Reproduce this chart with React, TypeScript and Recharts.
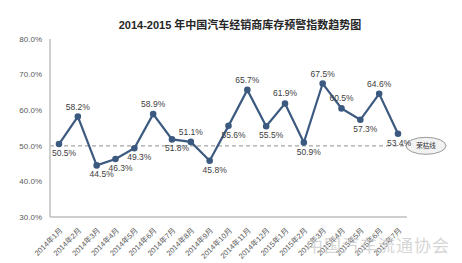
import { LineChart, Line, XAxis, YAxis, ReferenceLine, LabelList } from "recharts";

const MONTHS = [
  "2014年1月", "2014年2月", "2014年3月", "2014年4月", "2014年5月", "2014年6月",
  "2014年7月", "2014年8月", "2014年9月", "2014年10月", "2014年11月", "2014年12月",
  "2015年1月", "2015年2月", "2015年3月", "2015年4月", "2015年5月", "2015年6月", "2015年7月",
];
const INDEX = [
  50.5, 58.2, 44.5, 46.3, 49.3, 58.9, 51.8, 51.1, 45.8, 55.6,
  65.7, 55.5, 61.9, 50.9, 67.5, 60.5, 57.3, 64.6, 53.4,
];
const Y_TICKS = [30, 40, 50, 60, 70, 80];
const THRESHOLD = 50;

const data = MONTHS.map((m, i) => ({ month: m, value: INDEX[i] }));

const FONT = "'Liberation Sans', 'Noto Sans CJK SC', sans-serif";

const MonthTick = (props: any) => {
  const { x, y, payload } = props;
  return (
    <text
      x={x + 4}
      y={y + 6}
      transform={`rotate(-45, ${x + 4}, ${y + 6})`}
      textAnchor="end"
      fontSize={7.5}
      fill="#595959"
      fontFamily={FONT}
    >
      {payload.value}
    </text>
  );
};

const PointLabel = (props: any) => {
  const { x, y, index, value } = props;
  const next = INDEX[index + 1];
  const last = next === undefined;
  const above = !last && value > next && index !== 6;
  return (
    <text
      x={x + (above ? 0 : last ? 1 : 5)}
      y={above ? y - 7 : y + 12}
      textAnchor="middle"
      fontSize={8.5}
      fill="#404040"
      fontFamily={FONT}
    >
      {`${value.toFixed(1)}%`}
    </text>
  );
};

const ThresholdBadge = (props: any) => {
  const { viewBox } = props;
  const cx = viewBox.x + viewBox.width + 19;
  const cy = viewBox.y;
  return (
    <g>
      <ellipse cx={cx} cy={cy} rx={20} ry={8.5} fill="#f2f2f2" stroke="#9a9a9a" strokeWidth={1} />
      <text x={cx} y={cy + 2.5} textAnchor="middle" fontSize={6.5} fill="#333" fontFamily={FONT}>
        荣枯线
      </text>
    </g>
  );
};

export default function App() {
  return (
    <div style={{ position: "absolute", left: 0, top: 0, width: 462, height: 263, background: "#fff", overflow: "hidden" }}>
      <div
        style={{
          position: "absolute",
          left: 0,
          top: 16,
          width: 480,
          textAlign: "center",
          fontFamily: FONT,
          fontWeight: "bold",
          fontSize: 11,
          color: "#262626",
        }}
      >
        2014-2015 年中国汽车经销商库存预警指数趋势图
      </div>
      <LineChart width={462} height={263} data={data} margin={{ top: 39, right: 55, bottom: 0, left: 0 }}>
        <XAxis
          dataKey="month"
          interval={0}
          height={46}
          padding={{ left: 9, right: 9 }}
          tickLine={false}
          axisLine={{ stroke: "#bfbfbf", strokeWidth: 1.5 }}
          tick={<MonthTick />}
        />
        <YAxis
          width={50}
          domain={[30, 80]}
          ticks={Y_TICKS}
          tickLine={false}
          axisLine={{ stroke: "#bfbfbf", strokeWidth: 1.5 }}
          tickFormatter={(v: number) => `${v.toFixed(1)}%`}
          tick={{ fontSize: 8, fill: "#595959", fontFamily: FONT }}
        />
        <ReferenceLine
          y={THRESHOLD}
          stroke="#a6a6a6"
          strokeDasharray="4 3"
          strokeWidth={1.2}
          label={<ThresholdBadge />}
        />
        <Line
          type="linear"
          dataKey="value"
          stroke="#3c5a80"
          strokeWidth={2.2}
          dot={{ r: 2.2, fill: "#3c5a80", stroke: "#3c5a80" }}
          isAnimationActive={false}
        >
          <LabelList dataKey="value" content={<PointLabel />} />
        </Line>
      </LineChart>
      <div
        style={{
          position: "absolute",
          left: 306,
          top: 232,
          fontFamily: "'Noto Sans CJK SC', sans-serif",
          fontSize: 17,
          color: "rgba(200,200,200,0.75)",
          letterSpacing: 1,
        }}
      >
        中国汽车流通协会
      </div>
    </div>
  );
}
